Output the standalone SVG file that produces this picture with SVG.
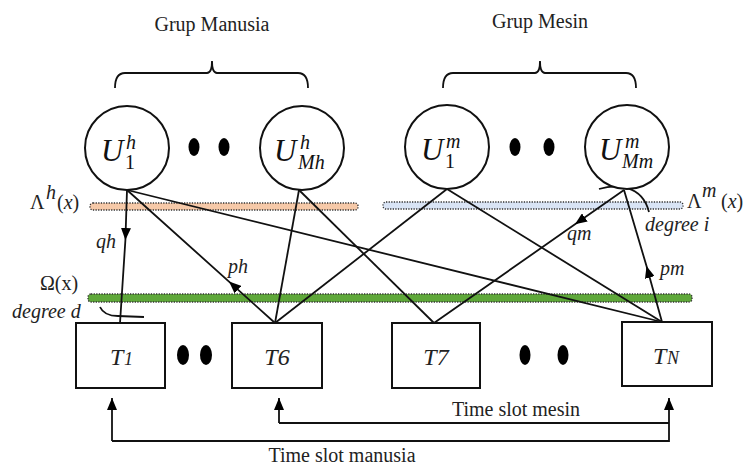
<svg xmlns="http://www.w3.org/2000/svg" width="747" height="466" viewBox="0 0 747 466">
  <style>
    .title { font-family: "Liberation Serif", "Times New Roman", serif; font-size: 20px; fill: #222; }
    .lbl { font-family: "Liberation Serif", "Times New Roman", serif; font-size: 20px; fill: #222; }
    .it { font-style: italic; }
    .ulet { font-family: "Liberation Serif", serif; font-style: italic; font-size: 31px; fill: #111; }
    .usup { font-family: "Liberation Serif", serif; font-style: italic; font-size: 20px; fill: #111; }
    .usub { font-family: "Liberation Serif", serif; font-size: 20px; fill: #111; }
    .tlet { font-family: "Liberation Serif", serif; font-style: italic; font-size: 24px; fill: #222; }
    .tsml { font-family: "Liberation Serif", serif; font-style: italic; font-size: 18px; fill: #222; }
    .node { fill: #fff; stroke: #111; stroke-width: 2; }
    .edge { fill: none; stroke: #111; stroke-width: 1.8; }
    .dot { fill: #000; }
    .band { stroke: #333; stroke-width: 1.3; stroke-dasharray: 1.3 1.3; }
  </style>
  <defs>
    <marker id="arrow" viewBox="0 0 12 10" refX="12" refY="5" markerWidth="12" markerHeight="10" markerUnits="userSpaceOnUse" orient="auto">
      <path d="M0,0 L12,5 L0,10 Z" fill="#000"/>
    </marker>
  </defs>

  <rect width="747" height="466" fill="#fff"/>

  <!-- group titles and braces -->
  <g id="group-manusia">
    <text class="title" x="212" y="31" text-anchor="middle">Grup Manusia</text>
    <path class="edge" d="M115,88 Q115,73 125,73 L207,73 Q212,73 212,61 Q212,73 217,73 L298,73 Q308,73 308,88"/>
  </g>
  <g id="group-mesin">
    <text class="title" x="540" y="28" text-anchor="middle">Grup Mesin</text>
    <path class="edge" d="M443,88 Q443,73 453,73 L535,73 Q540,73 540,61 Q540,73 545,73 L626,73 Q636,73 636,88"/>
  </g>

  <!-- degree distribution bands -->
  <g id="bands">
    <rect class="band" x="90" y="203" width="268" height="7" rx="3" fill="#f6c9a8"/>
    <rect class="band" x="383" y="202" width="300" height="7" rx="3" fill="#d9e4f5"/>
    <rect class="band" x="88" y="294" width="604" height="8" rx="3" fill="#5fa83a"/>
    <text class="lbl" x="30" y="209" font-size="21">Λ</text>
    <text class="lbl it" x="46" y="199" font-size="16">h</text>
    <text class="lbl" x="57" y="209" font-size="21">(<tspan class="it">x</tspan>)</text>
    <text class="lbl" x="40" y="290" font-size="21">Ω(x)</text>
    <text class="lbl" x="687" y="208" font-size="21">Λ</text>
    <text class="lbl it" x="702" y="197" font-size="16">m</text>
    <text class="lbl" x="721" y="208" font-size="21">(<tspan class="it">x</tspan>)</text>
  </g>

  <!-- edges between slots and users -->
  <g id="connectors">
    <path class="edge" d="M127,190 L125.4,240 L120,323" marker-mid="url(#arrow)"/>
    <path class="edge" d="M275,323 L229,281.6 L127,190" marker-mid="url(#arrow)"/>
    <path class="edge" d="M127,190 L662,322"/>
    <path class="edge" d="M299,190 L275,323"/>
    <path class="edge" d="M299,190 L434,323"/>
    <path class="edge" d="M447,189 L275,323"/>
    <path class="edge" d="M447,189 L662,322"/>
    <path class="edge" d="M624,190 L575,224.3 L434,323" marker-mid="url(#arrow)"/>
    <path class="edge" d="M662,322 L646.5,266 L624,190" marker-mid="url(#arrow)"/>
    <path class="edge" d="M100,307 Q104,316 118,316 L144,317"/>
    <path class="edge" d="M599,189 C615,184 642,184 649,212"/>
    <text class="lbl it" x="96" y="248">qh</text>
    <text class="lbl it" x="228" y="273">ph</text>
    <text class="lbl it" x="567" y="240">qm</text>
    <text class="lbl it" x="660" y="275">pm</text>
    <text class="lbl it" x="12" y="318" font-size="21">degree d</text>
    <text class="lbl it" x="645" y="231" font-size="21">degree i</text>
  </g>

  <!-- user nodes -->
  <g id="u1h">
    <circle class="node" cx="127" cy="148" r="42"/>
    <text class="ulet" x="101" y="161">U</text>
    <text class="usup" x="126" y="149">h</text>
    <text class="usub" x="125" y="169">1</text>
  </g>
  <g id="dots-h">
    <ellipse class="dot" cx="194" cy="147" rx="5.5" ry="9"/>
    <ellipse class="dot" cx="224" cy="147" rx="5.5" ry="9"/>
  </g>
  <g id="umh">
    <circle class="node" cx="302" cy="148" r="42"/>
    <text class="ulet" x="274" y="161">U</text>
    <text class="usup" x="300" y="149">h</text>
    <text class="usup" x="298" y="169">Mh</text>
  </g>
  <g id="u1m">
    <circle class="node" cx="447" cy="147" r="42"/>
    <text class="ulet" x="421" y="160">U</text>
    <text class="usup" x="446" y="148">m</text>
    <text class="usub" x="445" y="168">1</text>
  </g>
  <g id="dots-m">
    <ellipse class="dot" cx="515" cy="147" rx="5.5" ry="9"/>
    <ellipse class="dot" cx="549" cy="147" rx="5.5" ry="9"/>
  </g>
  <g id="umm">
    <circle class="node" cx="627" cy="147" r="42"/>
    <text class="ulet" x="599" y="160">U</text>
    <text class="usup" x="625" y="148">m</text>
    <text class="usup" x="622" y="168">Mm</text>
  </g>

  <!-- time slot nodes -->
  <g id="t1">
    <rect class="node" x="76" y="323" width="89" height="65"/>
    <text class="tlet" x="110" y="365">T</text><text class="tsml" x="124" y="365">1</text>
  </g>
  <g id="dots-t1">
    <ellipse class="dot" cx="183" cy="355" rx="6" ry="10"/>
    <ellipse class="dot" cx="206" cy="355" rx="6" ry="10"/>
  </g>
  <g id="t6">
    <rect class="node" x="232" y="323" width="90" height="65"/>
    <text class="tlet" x="277" y="365" text-anchor="middle">T6</text>
  </g>
  <g id="t7">
    <rect class="node" x="392" y="323" width="88" height="65"/>
    <text class="tlet" x="436" y="365" text-anchor="middle">T7</text>
  </g>
  <g id="dots-t7">
    <ellipse class="dot" cx="525" cy="355" rx="5.5" ry="10"/>
    <ellipse class="dot" cx="563" cy="355" rx="5.5" ry="10"/>
  </g>
  <g id="tn">
    <rect class="node" x="622" y="322" width="90" height="64"/>
    <text class="tlet" x="653" y="364">T</text><text class="tsml" x="667" y="364">N</text>
  </g>

  <!-- slot assignment arrows -->
  <g id="slot-arrows">
    <path class="edge" d="M279,423 L669,423 M279,423 L279,398" marker-end="url(#arrow)"/>
    <path class="edge" d="M112,441 L669,441 L669,398" marker-end="url(#arrow)"/>
    <path class="edge" d="M112,441 L112,398" marker-end="url(#arrow)"/>
    <text class="title" x="516" y="416" text-anchor="middle">Time slot mesin</text>
    <text class="title" x="342" y="462" text-anchor="middle">Time slot manusia</text>
  </g>
</svg>
